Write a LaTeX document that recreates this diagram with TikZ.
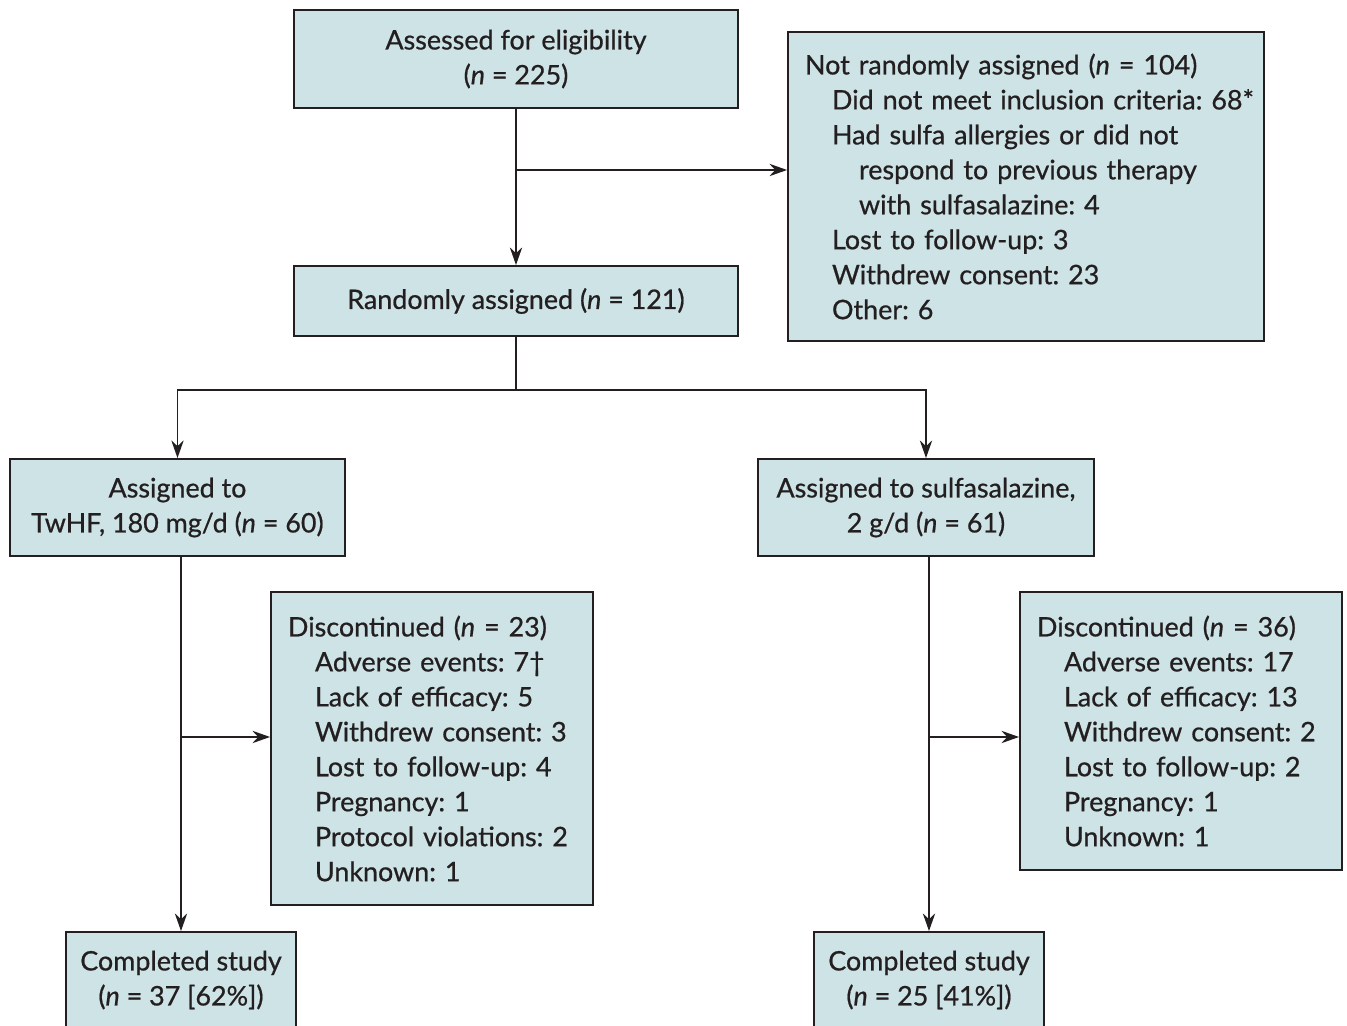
\documentclass[tikz,border=0pt]{standalone}
\usepackage{fontspec}
\setmainfont{Lato}[UprightFeatures={FakeBold=0.7}, ItalicFeatures={FakeBold=0.7}]
\usetikzlibrary{arrows.meta, positioning, calc}
\definecolor{boxfill}{RGB}{205, 227, 230}
\definecolor{inkgray}{RGB}{35, 31, 32}
\newcommand{\indA}{\hspace*{0.54cm}}
\newcommand{\indB}{\hspace*{1.08cm}}
\frenchspacing
\tikzset{
  flowbox/.style={draw=inkgray, fill=boxfill, line width=1.1pt, align=center, inner sep=2pt,
    text=inkgray, font=\fontsize{15.3}{19.9}\selectfont},
  listbox/.style={flowbox, align=left, inner xsep=0.34cm},
  flowarr/.style={-{Stealth[length=10pt, width=7pt]}, line width=1.1pt, inkgray},
  flowline/.style={line width=1.1pt, inkgray},
}
\begin{document}
\begin{tikzpicture}[x=0.02cm, y=-0.02cm]
  \useasboundingbox (0,0) rectangle (1347,1026);
  % top row
  \node[flowbox, minimum width=8.88cm, minimum height=1.96cm] (elig) at (516,59)
    {Assessed for eligibility\\(\textit{n} = 225)};
  \node[listbox, text width=8.84cm, minimum height=6.18cm] (excl) at (1026,186.5)
    {Not randomly assigned (\textit{n} = 104)\\
     \indA\mbox{Did not meet inclusion criteria: 68*}\\
     \indA Had sulfa allergies or did not\\
     \indB respond to previous therapy\\
     \indB with sulfasalazine: 4\\
     \indA Lost to follow-up: 3\\
     \indA Withdrew consent: 23\\
     \indA Other: 6};
  \node[flowbox, minimum width=8.88cm, minimum height=1.4cm] (rand) at (516,301)
    {Randomly assigned (\textit{n} = 121)};
  % arms
  \node[flowbox, minimum width=6.7cm, minimum height=1.94cm] (twhf) at (177.5,507.5)
    {Assigned to\\TwHF, 180 mg/d (\textit{n} = 60)};
  \node[flowbox, minimum width=6.72cm, minimum height=1.94cm] (sulfa) at (926,507.5)
    {Assigned to sulfasalazine,\\2 g/d (\textit{n} = 61)};
  \node[listbox, text width=5.76cm, minimum height=6.26cm] (discA) at (432,748.5)
    {Discontinued (\textit{n} = 23)\\
     \indA Adverse events: 7\textdagger\\
     \indA Lack of efficacy: 5\\
     \indA Withdrew consent: 3\\
     \indA Lost to follow-up: 4\\
     \indA Pregnancy: 1\\
     \indA Protocol violations: 2\\
     \indA Unknown: 1};
  \node[listbox, text width=5.76cm, minimum height=5.56cm] (discB) at (1181,731)
    {Discontinued (\textit{n} = 36)\\
     \indA Adverse events: 17\\
     \indA Lack of efficacy: 13\\
     \indA Withdrew consent: 2\\
     \indA Lost to follow-up: 2\\
     \indA Pregnancy: 1\\
     \indA Unknown: 1};
  \node[flowbox, minimum width=4.6cm, minimum height=1.92cm] (compA) at (181,980)
    {Completed study\\(\textit{n} = 37 [62\%])};
  \node[flowbox, minimum width=4.6cm, minimum height=1.92cm] (compB) at (929,980)
    {Completed study\\(\textit{n} = 25 [41\%])};
  % connectors
  \coordinate (j1) at (516,170);
  \coordinate (split) at (516,390);
  \coordinate (jA) at (181,737);
  \coordinate (jB) at (929,737);
  \draw[flowarr] (elig) -- (rand);
  \draw[flowarr] (j1) -- (excl.west |- j1);
  \draw[flowline] (rand) -- (split);
  \draw[flowarr] (split) -| (twhf);
  \draw[flowarr] (split) -| (sulfa);
  \draw[flowarr] (twhf.south -| compA) -- (compA);
  \draw[flowarr] (sulfa.south -| compB) -- (compB);
  \draw[flowarr] (jA) -- (discA.west |- jA);
  \draw[flowarr] (jB) -- (discB.west |- jB);
\end{tikzpicture}
\end{document}
